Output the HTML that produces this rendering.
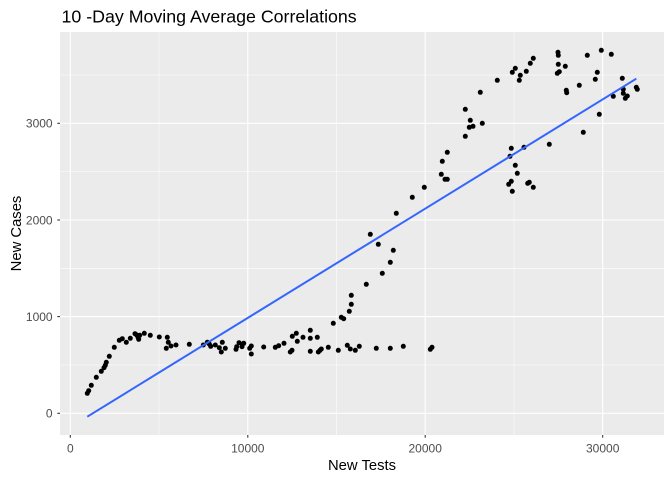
<!DOCTYPE html>
<html><head><meta charset="utf-8"><style>
html,body{margin:0;padding:0;background:#fff;}
svg{display:block;font-family:"Liberation Sans",Arial,sans-serif;}
</style></head><body>
<svg width="672" height="480" viewBox="0 0 672 480" xmlns="http://www.w3.org/2000/svg">
<rect x="0" y="0" width="672" height="480" fill="#fff"/>
<rect x="60" y="32" width="604" height="403" fill="#EBEBEB"/>
<g stroke="#fff" stroke-width="0.55" fill="none">
<line x1="159" y1="32" x2="159" y2="435"/>
<line x1="336.5" y1="32" x2="336.5" y2="435"/>
<line x1="514" y1="32" x2="514" y2="435"/>
<line x1="60" y1="365" x2="664" y2="365"/>
<line x1="60" y1="268.3" x2="664" y2="268.3"/>
<line x1="60" y1="171.6" x2="664" y2="171.6"/>
<line x1="60" y1="75" x2="664" y2="75"/>
</g>
<g stroke="#fff" stroke-width="1.1" fill="none">
<line x1="70.3" y1="32" x2="70.3" y2="435"/>
<line x1="247.8" y1="32" x2="247.8" y2="435"/>
<line x1="425.2" y1="32" x2="425.2" y2="435"/>
<line x1="602.7" y1="32" x2="602.7" y2="435"/>
<line x1="60" y1="413.3" x2="664" y2="413.3"/>
<line x1="60" y1="316.6" x2="664" y2="316.6"/>
<line x1="60" y1="220" x2="664" y2="220"/>
<line x1="60" y1="123.3" x2="664" y2="123.3"/>
</g>
<g fill="#000">
<circle cx="87.3" cy="393.3" r="2.5"/><circle cx="88.7" cy="390.7" r="2.5"/><circle cx="91.3" cy="385.3" r="2.5"/><circle cx="96.3" cy="377.3" r="2.5"/><circle cx="101.3" cy="371.3" r="2.5"/><circle cx="104" cy="367.7" r="2.5"/><circle cx="105.3" cy="365.3" r="2.5"/><circle cx="106.3" cy="362.3" r="2.5"/><circle cx="109.3" cy="356.3" r="2.5"/><circle cx="114.3" cy="347.3" r="2.5"/><circle cx="119.3" cy="340.3" r="2.5"/><circle cx="122.3" cy="338.7" r="2.5"/><circle cx="126.3" cy="342.3" r="2.5"/><circle cx="130.3" cy="338.3" r="2.5"/><circle cx="135" cy="333.7" r="2.5"/><circle cx="136.7" cy="335" r="2.5"/><circle cx="138" cy="337.3" r="2.5"/><circle cx="138.7" cy="339.3" r="2.5"/><circle cx="139.7" cy="335.3" r="2.5"/><circle cx="144.3" cy="333.3" r="2.5"/><circle cx="150.3" cy="335.3" r="2.5"/><circle cx="159.3" cy="337" r="2.5"/><circle cx="167.3" cy="337.3" r="2.5"/><circle cx="168.3" cy="342.3" r="2.5"/><circle cx="166.3" cy="348.3" r="2.5"/><circle cx="171" cy="346" r="2.5"/><circle cx="176" cy="345" r="2.5"/><circle cx="189.3" cy="344.3" r="2.5"/><circle cx="203.3" cy="345" r="2.5"/><circle cx="207.3" cy="342.3" r="2.5"/><circle cx="209.3" cy="344" r="2.5"/><circle cx="210.7" cy="346.3" r="2.5"/><circle cx="215.3" cy="345" r="2.5"/><circle cx="219.3" cy="347.7" r="2.5"/><circle cx="221.3" cy="352" r="2.5"/><circle cx="222.3" cy="342.3" r="2.5"/><circle cx="225.3" cy="348.3" r="2.5"/><circle cx="236" cy="349.3" r="2.5"/><circle cx="236.7" cy="346.7" r="2.5"/><circle cx="239" cy="342.7" r="2.5"/><circle cx="242.3" cy="344.3" r="2.5"/><circle cx="243.7" cy="343.3" r="2.5"/><circle cx="242" cy="346.7" r="2.5"/><circle cx="249.7" cy="348.3" r="2.5"/><circle cx="251.3" cy="346" r="2.5"/><circle cx="251.3" cy="354" r="2.5"/><circle cx="263.7" cy="347" r="2.5"/><circle cx="275.3" cy="347.3" r="2.5"/><circle cx="278.7" cy="345.7" r="2.5"/><circle cx="284" cy="343.3" r="2.5"/><circle cx="290.3" cy="352" r="2.5"/><circle cx="292" cy="350.3" r="2.5"/><circle cx="292.3" cy="336.3" r="2.5"/><circle cx="296.3" cy="333.3" r="2.5"/><circle cx="297.3" cy="341.3" r="2.5"/><circle cx="303" cy="337.3" r="2.5"/><circle cx="310.3" cy="330.3" r="2.5"/><circle cx="310.3" cy="338.3" r="2.5"/><circle cx="310.3" cy="351.3" r="2.5"/><circle cx="317.3" cy="337.3" r="2.5"/><circle cx="318.3" cy="352" r="2.5"/><circle cx="320" cy="350.3" r="2.5"/><circle cx="321.3" cy="349" r="2.5"/><circle cx="328.3" cy="347.3" r="2.5"/><circle cx="333.3" cy="323.3" r="2.5"/><circle cx="338.3" cy="350.3" r="2.5"/><circle cx="341.3" cy="317.3" r="2.5"/><circle cx="343.7" cy="318.7" r="2.5"/><circle cx="347.3" cy="345.3" r="2.5"/><circle cx="349.3" cy="311.3" r="2.5"/><circle cx="350.3" cy="349" r="2.5"/><circle cx="351.3" cy="304.3" r="2.5"/><circle cx="351.3" cy="295.3" r="2.5"/><circle cx="355.3" cy="350.3" r="2.5"/><circle cx="359.3" cy="346.3" r="2.5"/><circle cx="366.3" cy="284.3" r="2.5"/><circle cx="376.3" cy="348.3" r="2.5"/><circle cx="382.3" cy="273.3" r="2.5"/><circle cx="390.3" cy="348.3" r="2.5"/><circle cx="403.3" cy="346.3" r="2.5"/><circle cx="430.3" cy="349.3" r="2.5"/><circle cx="432" cy="347.3" r="2.5"/><circle cx="390.3" cy="262.3" r="2.5"/><circle cx="393.3" cy="250.3" r="2.5"/><circle cx="378.3" cy="244.3" r="2.5"/><circle cx="370.3" cy="234.3" r="2.5"/><circle cx="396.3" cy="213.3" r="2.5"/><circle cx="412.3" cy="197.3" r="2.5"/><circle cx="424.3" cy="187.3" r="2.5"/><circle cx="441.3" cy="174.3" r="2.5"/><circle cx="445" cy="179.3" r="2.5"/><circle cx="447.3" cy="179.3" r="2.5"/><circle cx="442.3" cy="161.3" r="2.5"/><circle cx="447.3" cy="152.3" r="2.5"/><circle cx="465.3" cy="136.3" r="2.5"/><circle cx="469.3" cy="127.3" r="2.5"/><circle cx="473" cy="126.3" r="2.5"/><circle cx="470.3" cy="120.3" r="2.5"/><circle cx="465.3" cy="109.3" r="2.5"/><circle cx="482.3" cy="123.3" r="2.5"/><circle cx="480.3" cy="92.3" r="2.5"/><circle cx="497.3" cy="80.3" r="2.5"/><circle cx="512.3" cy="72.3" r="2.5"/><circle cx="515.3" cy="68.3" r="2.5"/><circle cx="520.3" cy="75.3" r="2.5"/><circle cx="519.3" cy="80.3" r="2.5"/><circle cx="526.3" cy="71.3" r="2.5"/><circle cx="530.3" cy="63.3" r="2.5"/><circle cx="533.3" cy="58.3" r="2.5"/><circle cx="558" cy="52.3" r="2.5"/><circle cx="558.3" cy="55.3" r="2.5"/><circle cx="558.3" cy="64.3" r="2.5"/><circle cx="557.3" cy="73.3" r="2.5"/><circle cx="559.3" cy="71.7" r="2.5"/><circle cx="565.3" cy="66.3" r="2.5"/><circle cx="587.3" cy="55.3" r="2.5"/><circle cx="601.3" cy="50.3" r="2.5"/><circle cx="611.3" cy="54.3" r="2.5"/><circle cx="597.3" cy="72.3" r="2.5"/><circle cx="595.3" cy="79.3" r="2.5"/><circle cx="579.3" cy="85.3" r="2.5"/><circle cx="566.3" cy="90.3" r="2.5"/><circle cx="566.7" cy="92.7" r="2.5"/><circle cx="622.3" cy="78.3" r="2.5"/><circle cx="623.3" cy="89.3" r="2.5"/><circle cx="623.3" cy="93.3" r="2.5"/><circle cx="627.3" cy="96" r="2.5"/><circle cx="625.3" cy="98.3" r="2.5"/><circle cx="613.3" cy="96.3" r="2.5"/><circle cx="636.3" cy="87.3" r="2.5"/><circle cx="637.3" cy="89.3" r="2.5"/><circle cx="599.3" cy="114.3" r="2.5"/><circle cx="583.3" cy="132.3" r="2.5"/><circle cx="549.3" cy="144.3" r="2.5"/><circle cx="511.3" cy="148.3" r="2.5"/><circle cx="510" cy="156.3" r="2.5"/><circle cx="524" cy="147.3" r="2.5"/><circle cx="515.3" cy="165.3" r="2.5"/><circle cx="517.3" cy="173.3" r="2.5"/><circle cx="511.3" cy="181.3" r="2.5"/><circle cx="508.7" cy="184.3" r="2.5"/><circle cx="512.3" cy="191.3" r="2.5"/><circle cx="527.7" cy="183.3" r="2.5"/><circle cx="529.3" cy="182.3" r="2.5"/><circle cx="533.3" cy="187.3" r="2.5"/>
</g>
<line x1="87.3" y1="416.7" x2="636.3" y2="78.7" stroke="#3366FF" stroke-width="2"/>
<g stroke="#333" stroke-width="1.07">
<line x1="57.3" y1="413.3" x2="60" y2="413.3"/>
<line x1="57.3" y1="316.6" x2="60" y2="316.6"/>
<line x1="57.3" y1="220" x2="60" y2="220"/>
<line x1="57.3" y1="123.3" x2="60" y2="123.3"/>
<line x1="70.3" y1="435" x2="70.3" y2="437.7"/>
<line x1="247.8" y1="435" x2="247.8" y2="437.7"/>
<line x1="425.2" y1="435" x2="425.2" y2="437.7"/>
<line x1="602.7" y1="435" x2="602.7" y2="437.7"/>
</g>
<g fill="#4D4D4D" font-size="12">
<text x="52.6" y="417.6" text-anchor="end">0</text>
<text x="52.6" y="320.9" text-anchor="end">1000</text>
<text x="52.6" y="224.3" text-anchor="end">2000</text>
<text x="52.6" y="127.6" text-anchor="end">3000</text>
<text x="70.3" y="452.3" text-anchor="middle">0</text>
<text x="247.8" y="452.3" text-anchor="middle">10000</text>
<text x="425.2" y="452.3" text-anchor="middle">20000</text>
<text x="602.7" y="452.3" text-anchor="middle">30000</text>
</g>
<text x="362" y="470" text-anchor="middle" font-size="14.8" fill="#000">New Tests</text>
<text transform="translate(21,233.5) rotate(-90)" text-anchor="middle" font-size="14.8" fill="#000">New Cases</text>
<text x="61.5" y="22.5" font-size="17.8" fill="#000">10 -Day Moving Average Correlations</text>
</svg>
</body></html>
